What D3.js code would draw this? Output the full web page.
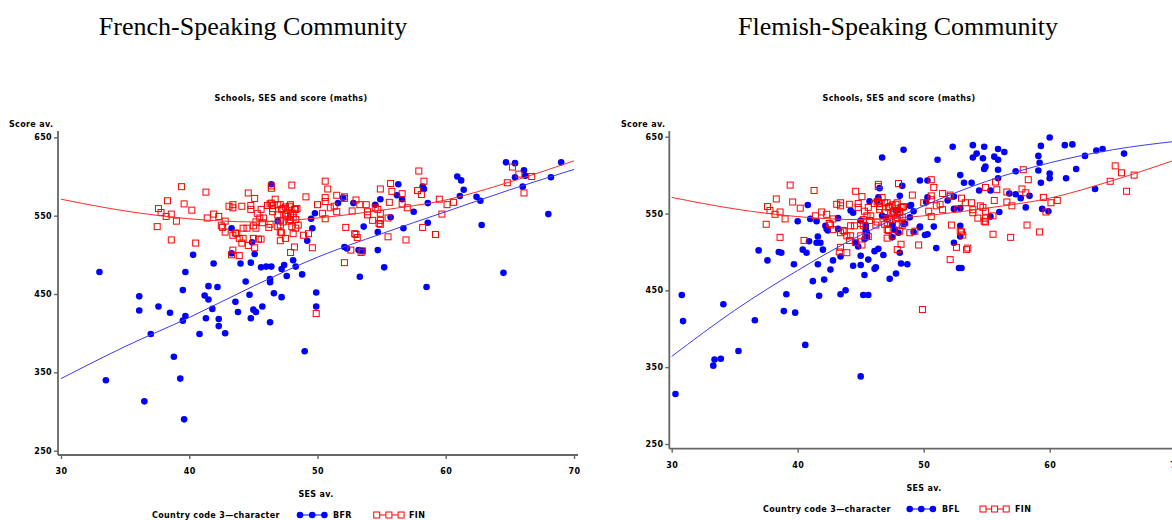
<!DOCTYPE html>
<html>
<head>
<meta charset="utf-8">
<script src="https://cdn.jsdelivr.net/npm/d3@7"></script>
<style>
  body { margin: 0; background: #fff; }
  svg { display: block; }
  .small { font-family: "DejaVu Sans", sans-serif; font-weight: bold; font-size: 8px; letter-spacing: 0.35px; fill: #000; }
  .big { font-family: "Liberation Serif", "Times New Roman", serif; font-size: 26px; fill: #000; }
</style>
</head>
<body>
<div id="chart"></div>
<script>
// tick values
var xTicks = [30, 40, 50, 60, 70];
var yTicks = [250, 350, 450, 550, 650];

// [SES av., Score av.] per school, French-speaking community
var bfrPoints = [
  [33.0,478],[33.5,340],[36.1,447],[36.1,429],[37.0,399],[36.5,313],[37.6,434],[38.5,426],[38.8,370],[39.3,342],
  [39.6,290],[39.7,478],[39.5,455],[39.5,416],[39.7,422],[40.8,399],[41.2,448],[41.5,460],[41.5,443],[41.3,419],
  [41.8,431],[41.9,489],[42.2,459],[42.3,418],[42.3,409],[42.8,400],[43.6,440],[43.8,427],[44.0,489],[44.4,466],
  [44.7,449],[44.8,490],[44.8,419],[45.0,430],[45.2,427],[45.7,434],[45.6,484],[46.0,485],[46.4,485],[46.3,469],
  [46.3,465],[46.3,414],[46.6,451],[47.2,482],[47.4,487],[47.2,446],[47.6,473],[48.3,485],[48.1,493],[46.4,590],
  [43.3,534],[44.9,516],[40.3,500],[43.3,502],[45.1,501],[48.8,475],[49.9,452],[49.9,434],[49.0,377],[49.5,546],
  [49.8,553],[49.6,534],[49.2,518],[46.9,543],[52.0,573],[51.6,566],[52.8,566],[52.1,510],[52.3,508],[53.2,506],
  [53.5,505],[53.6,536],[53.3,472],[54.5,564],[54.9,571],[54.7,506],[54.7,529],[55.2,484],[55.7,548],[56.3,590],
  [56.2,576],[64.7,618],[65.4,617],[66.1,608],[66.2,601],[65.4,599],[66.0,587],[69.0,618],[68.2,599],[68.0,552],
  [62.8,538],[64.5,477],[60.9,600],[61.2,595],[61.4,583],[61.1,575],[62.4,574],[62.7,569],[58.2,587],[58.3,584],
  [56.6,571],[58.6,566],[57.5,555],[58.6,541],[56.7,534],[58.5,459]
];

// Flemish-speaking community
var bflPoints = [
  [40.8,561],[40.0,540],[41.0,543],[41.5,540],[42.2,534],[42.3,530],[42.4,528],[41.6,520],[40.9,514],[41.5,512],
  [41.8,512],[40.4,503],[40.7,499],[42.0,503],[36.9,502],[37.6,489],[38.5,500],[38.7,499],[39.7,484],[41.6,484],
  [42.8,489],[43.4,494],[42.6,477],[44.2,554],[44.4,551],[45.7,566],[46.3,567],[45.0,541],[45.4,535],[45.5,524],
  [45.3,517],[45.5,519],[44.6,512],[44.8,507],[46.1,501],[46.4,504],[43.2,530],[44.4,482],[45.0,483],[45.3,470],
  [45.6,490],[46.2,480],[46.1,478],[46.5,583],[46.4,571],[30.3,315],[30.8,444],[30.9,410],[33.3,352],[33.4,360],
  [33.9,361],[34.1,432],[35.3,371],[36.6,411],[38.9,423],[39.1,445],[39.8,421],[40.6,379],[41.2,462],[41.7,443],
  [42.1,464],[43.4,445],[43.8,450],[45.2,444],[45.6,444],[45.0,338],[46.7,623],[48.4,633],[49.7,593],[48.1,573],
  [48.3,586],[43.2,544],[45.4,531],[45.4,527],[46.7,547],[47.0,545],[47.8,554],[48.0,555],[48.9,560],[49.2,553],
  [48.9,545],[49.7,532],[47.5,535],[48.4,536],[47.7,529],[47.5,519],[48.0,525],[45.0,495],[46.8,496],[47.3,465],
  [47.8,472],[48.2,485],[48.7,484],[51.1,620],[52.3,637],[53.9,639],[54.8,637],[55.9,634],[56.4,630],[54.2,628],
  [53.9,623],[54.7,622],[55.6,624],[55.9,620],[54.8,608],[54.9,611],[55.9,607],[52.9,600],[53.2,590],[53.8,590],
  [52.4,572],[51.9,567],[55.3,580],[54.4,580],[55.9,596],[57.3,605],[59.1,606],[59.2,616],[59.1,625],[59.3,638],
  [60.0,649],[61.2,639],[61.8,640],[62.8,625],[63.7,632],[64.2,634],[65.9,628],[62.1,608],[61.3,596],[60.0,596],
  [60.0,602],[59.3,590],[56.8,576],[57.3,575],[57.7,570],[58.4,573],[58.1,558],[59.4,556],[59.9,553],[56.0,552],
  [55.3,546],[52.9,557],[52.4,556],[52.9,534],[52.9,520],[52.4,512],[50.8,533],[49.7,533],[50.3,523],[50.1,522],
  [49.2,526],[51.0,505],[52.8,479],[53.0,479],[50.3,593],[50.3,571],[50.2,565],[49.0,561],[48.5,537],[48.1,499],
  [63.6,582]
];

// Finland, same in both panels
var finPoints = [
  [37.6,559],[37.8,554],[37.5,536],[38.2,549],[38.6,552],[38.3,569],[39.0,543],[39.4,587],[39.6,565],[38.6,519],
  [40.2,557],[40.5,515],[41.3,580],[41.4,547],[41.9,552],[42.3,549],[42.5,537],[42.8,543],[42.8,529],[43.1,562],
  [43.4,564],[43.4,506],[43.3,500],[43.9,499],[43.7,527],[44.2,534],[44.5,534],[43.9,521],[44.2,521],[44.1,515],
  [44.6,579],[45.1,572],[44.8,558],[44.1,562],[44.6,512],[45.1,509],[45.0,521],[45.0,537],[45.2,534],[45.4,520],
  [45.6,520],[45.2,542],[45.5,547],[45.3,553],[45.6,558],[45.7,541],[45.8,547],[46.2,535],[46.4,588],[46.4,585],
  [46.4,566],[46.7,571],[46.5,559],[46.5,555],[46.9,551],[47.1,544],[47.3,542],[47.1,538],[47.2,528],[47.1,518],
  [47.5,521],[48.0,589],[47.8,562],[47.3,559],[47.5,551],[47.9,551],[48.1,548],[48.3,558],[48.0,536],[48.3,534],
  [48.1,527],[48.2,510],[47.9,503],[50.6,594],[50.8,584],[49.1,574],[43.4,560],[44.8,563],[42.6,535],[43.4,525],
  [43.6,528],[46.1,563],[46.3,565],[46.5,563],[46.9,564],[47.1,564],[47.2,558],[47.5,561],[47.9,564],[48.2,558],
  [48.4,559],[47.6,553],[47.7,549],[48.1,553],[47.9,545],[48.3,545],[47.8,543],[46.9,536],[47.1,529],[48.5,538],
  [48.9,525],[49.3,527],[46.3,539],[49.6,509],[49.9,425],[50.0,564],[50.4,553],[50.6,573],[50.6,568],[51.0,560],
  [51.3,562],[51.5,576],[51.5,555],[52.1,572],[52.1,574],[50.6,546],[52.2,535],[52.9,527],[53.1,522],[52.6,506],
  [53.4,503],[53.5,505],[52.1,490],[52.7,556],[53.0,570],[53.3,564],[53.8,564],[53.9,555],[54.5,560],[54.7,558],
  [54.9,553],[54.8,540],[54.9,544],[54.3,544],[55.6,567],[55.7,591],[55.8,581],[55.5,523],[54.9,584],[53.9,551],
  [56.6,578],[56.6,565],[57.0,560],[54.9,539],[57.9,607],[58.3,594],[57.8,582],[58.1,577],[59.5,571],[60.1,564],
  [60.6,567],[59.7,552],[58.2,535],[59.2,526],[56.9,519],[55.5,547],[64.8,592],[65.2,612],[65.7,603],[66.1,579],
  [66.7,600],[53.0,526]
];

// fitted curves
var bfrFit = [[30,342],[35,383],[40,420],[45,460],[50,497],[55,527],[60,555],[65,583],[70,609]];
var bflFit = [[30,364],[35,424],[40,476],[45,522],[50,560],[55,592],[60,616],[65,633],[70,644]];
var finFit = [[30,571],[35,556],[40,546],[45,542],[50,547],[55,557],[60,570],[65,593],[70,620]];

var panels = [
  {title: "French-Speaking Community", titleX: 253, code: "BFR", points: bfrPoints, fit: bfrFit,
   xr: [61, 574], yr: [450.7, 137.3], axisX: 58, axisY: 455, axisTop: 131, axisRight: 578,
   subX: 291, scoreX: 9, xLabX: 316, xLabY: 497, tickDy: 19,
   legY: 518, legTextX: 152, legBlue: 300, legRed: 376.7, legStep: 12.2, codeX: 333, finX: 409},
  {title: "Flemish-Speaking Community", titleX: 898, code: "BFL", points: bflPoints, fit: bflFit,
   xr: [671.7, 1175.7], yr: [444, 136.7], axisX: 669.3, axisY: 448.7, axisTop: 131, axisRight: 1180,
   subX: 899, scoreX: 621, xLabX: 924, xLabY: 491, tickDy: 19,
   legY: 512, legTextX: 763, legBlue: 909.7, legRed: 983, legStep: 11.6, codeX: 942, finX: 1015}
];

var svg = d3.select("#chart").append("svg")
    .attr("width", 1172)
    .attr("height", 520);

panels.forEach(function(p) {
    var x = d3.scaleLinear().domain([30, 70]).range(p.xr);
    var y = d3.scaleLinear().domain([250, 650]).range(p.yr);
    var g = svg.append("g");

    g.append("text").attr("class", "big")
        .attr("x", p.titleX).attr("y", 35)
        .style("text-anchor", "middle")
        .text(p.title);

    g.append("text").attr("class", "small")
        .attr("x", p.subX).attr("y", 101)
        .style("text-anchor", "middle")
        .text("Schools, SES and score (maths)");

    g.append("text").attr("class", "small")
        .attr("x", p.scoreX).attr("y", 127)
        .text("Score av.");

    // axes
    var yAxis = g.append("g")
        .attr("transform", "translate(" + p.axisX + ",0)")
        .call(d3.axisLeft(y).tickValues(yTicks).tickSize(4).tickPadding(2));
    var xAxis = g.append("g")
        .attr("transform", "translate(0," + p.axisY + ")")
        .call(d3.axisBottom(x).tickValues(xTicks).tickSize(4).tickPadding(6));

    [yAxis, xAxis].forEach(function(a) {
        a.select(".domain").remove();
        a.selectAll(".tick line").attr("stroke", "#666").attr("stroke-width", 1.4);
        a.selectAll(".tick text").attr("class", "small").attr("font-family", null).attr("font-size", null);
    });
    xAxis.selectAll(".tick text").attr("y", p.tickDy).attr("dy", null);

    g.append("line")
        .attr("x1", p.axisX).attr("x2", p.axisX)
        .attr("y1", p.axisTop).attr("y2", p.axisY)
        .attr("stroke", "#666").attr("stroke-width", 1.8);
    g.append("line")
        .attr("x1", p.axisX).attr("x2", p.axisRight)
        .attr("y1", p.axisY).attr("y2", p.axisY)
        .attr("stroke", "#666").attr("stroke-width", 1.8);

    g.append("text").attr("class", "small")
        .attr("x", p.xLabX).attr("y", p.xLabY)
        .style("text-anchor", "middle")
        .text("SES av.");

    // points
    g.append("g").selectAll("circle")
        .data(p.points)
        .enter().append("circle")
        .attr("cx", function(d) { return x(d[0]); })
        .attr("cy", function(d) { return y(d[1]); })
        .attr("r", 3.3)
        .attr("fill", "#0000ff");

    g.append("g").selectAll("rect")
        .data(finPoints)
        .enter().append("rect")
        .attr("x", function(d) { return x(d[0]) - 3; })
        .attr("y", function(d) { return y(d[1]) - 3; })
        .attr("width", 6).attr("height", 6)
        .attr("fill", "none")
        .attr("stroke", "#ff0000")
        .attr("stroke-width", 1);

    var line = d3.line()
        .x(function(d) { return x(d[0]); })
        .y(function(d) { return y(d[1]); })
        .curve(d3.curveMonotoneX);

    g.append("path").datum(p.fit)
        .attr("d", line)
        .attr("fill", "none").attr("stroke", "#3a3aff").attr("stroke-width", 1);
    g.append("path").datum(finFit)
        .attr("d", line)
        .attr("fill", "none").attr("stroke", "#ff2a2a").attr("stroke-width", 1);

    // legend
    g.append("text").attr("class", "small")
        .attr("x", p.legTextX).attr("y", p.legY)
        .text("Country code 3\u2014character");

    var ly = p.legY - 3;
    var bx = [0, 1, 2].map(function(i) { return p.legBlue + i * p.legStep; });
    var rx = [0, 1, 2].map(function(i) { return p.legRed + i * p.legStep; });

    g.append("line").attr("x1", bx[0] - 2).attr("x2", bx[2] + 2)
        .attr("y1", ly).attr("y2", ly).attr("stroke", "#0000ff").attr("stroke-width", 1);
    g.selectAll(".legdot").data(bx).enter().append("circle")
        .attr("cx", function(d) { return d; }).attr("cy", ly).attr("r", 3.3).attr("fill", "#0000ff");
    g.append("text").attr("class", "small").attr("x", p.codeX).attr("y", p.legY).text(p.code);

    g.append("line").attr("x1", rx[0] - 3).attr("x2", rx[2] + 3)
        .attr("y1", ly).attr("y2", ly).attr("stroke", "#ff0000").attr("stroke-width", 1);
    g.selectAll(".legsq").data(rx).enter().append("rect")
        .attr("x", function(d) { return d - 3; }).attr("y", ly - 3)
        .attr("width", 6).attr("height", 6)
        .attr("fill", "#fff").attr("stroke", "#ff0000").attr("stroke-width", 1);
    g.append("text").attr("class", "small").attr("x", p.finX).attr("y", p.legY).text("FIN");
});
</script>
</body>
</html>
